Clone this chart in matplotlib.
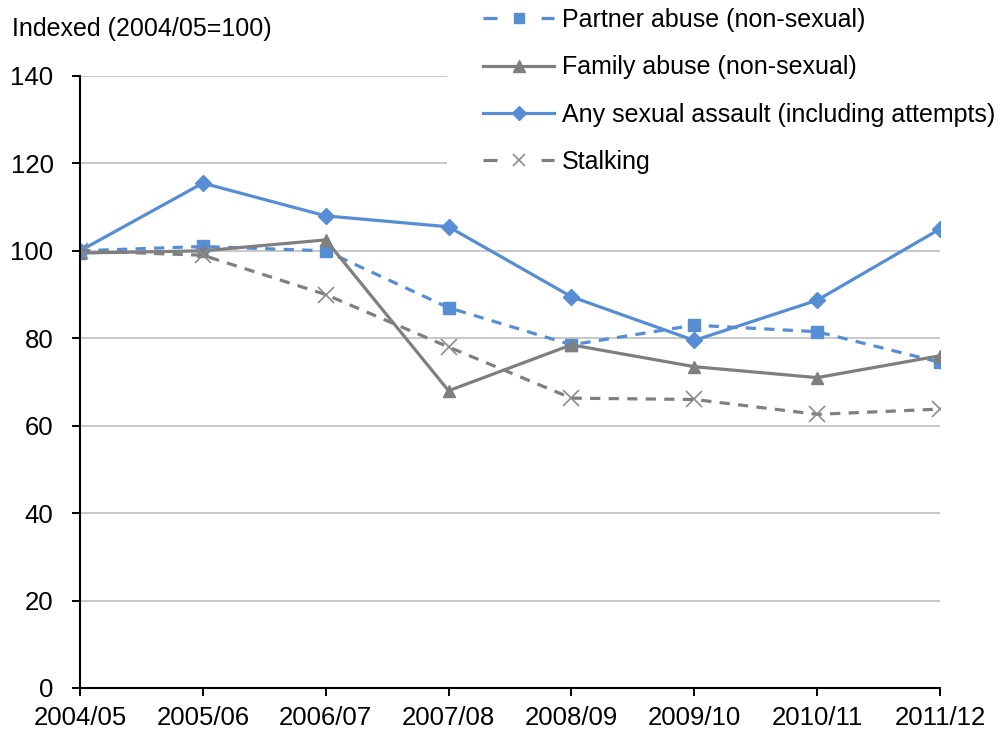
import matplotlib.pyplot as plt
from matplotlib.lines import Line2D
from matplotlib.patches import Rectangle

plt.rcParams['font.family'] = ['Liberation Sans', 'DejaVu Sans']

# --- data ---
years = ["2004/05", "2005/06", "2006/07", "2007/08", "2008/09", "2009/10", "2010/11", "2011/12"]
partner = [100, 101, 100, 87, 78.5, 83, 81.5, 74.5]
family = [99.5, 100, 102.5, 68, 78.5, 73.5, 71, 76]
sexual = [100, 115.5, 108, 105.5, 89.5, 79.5, 88.7, 105]
stalking = [100, 99, 90, 78, 66.3, 66, 62.6, 63.8]

labels = ["Partner abuse (non-sexual)", "Family abuse (non-sexual)",
          "Any sexual assault (including attempts)", "Stalking"]

blue = "#558ed5"
grey = "#7f7f7f"
lw = 2.3
dash = (0, (3.2, 2.6))

fig = plt.figure(figsize=(10.05, 7.37), dpi=100)
ax = fig.add_axes([0.0796, 0.0665, 0.8557, 0.8304])

x = range(len(years))
ax.plot(x, partner, color=blue, lw=lw, ls=dash, marker="s", ms=8)
ax.plot(x, family, color=grey, lw=lw, marker="^", ms=9)
ax.plot(x, sexual, color=blue, lw=lw, marker="D", ms=8)
ax.plot(x, stalking, color=grey, lw=lw, ls=dash, marker="x", ms=11, mew=1.2,
        mec="#8c8c8c")

ax.set_xlim(0, len(years) - 1)
ax.set_ylim(0, 140)
ax.set_yticks(range(0, 141, 20))
ax.set_xticks(list(x))
ax.set_xticklabels(years)
ax.tick_params(labelsize=18.5, length=6, width=1.4, color="black")
ax.tick_params(axis="y", pad=13)
ax.tick_params(axis="x", pad=7)
ax.grid(axis="y", color="#bfbfbf", lw=1.2)
ax.set_axisbelow(True)
for s in ["top", "right"]:
    ax.spines[s].set_visible(False)
for s in ["left", "bottom"]:
    ax.spines[s].set_linewidth(1.5)

fig.text(0.012, 0.961, "Indexed (2004/05=100)", fontsize=18, va="center", ha="left")

# white legend area hides the gridlines behind it (as in the original)
fig.patches.append(Rectangle((0.445, 0.749), 0.555, 0.251, transform=fig.transFigure,
                             facecolor="white", edgecolor="none", zorder=1))

# legend handles: short dash - marker - short dash, like the original
leg_dash = (0, (4.4, 13.8))
handles = [
    Line2D([], [], color=blue, lw=lw, ls=leg_dash, marker="s", ms=7),
    Line2D([], [], color=grey, lw=lw, marker="^", ms=8),
    Line2D([], [], color=blue, lw=lw, marker="D", ms=7),
    Line2D([], [], color=grey, lw=lw, ls=leg_dash, marker="x", ms=9, mew=1.2, mec="#8c8c8c"),
]
leg = fig.legend(handles, labels, loc="upper left", bbox_to_anchor=(0.4806, 0.989),
                 frameon=False, fontsize=18, handlelength=2.85, handletextpad=0.3,
                 labelspacing=0.93, borderpad=0, borderaxespad=0)
leg.set_zorder(5)

fig.savefig("out.png", dpi=100)
